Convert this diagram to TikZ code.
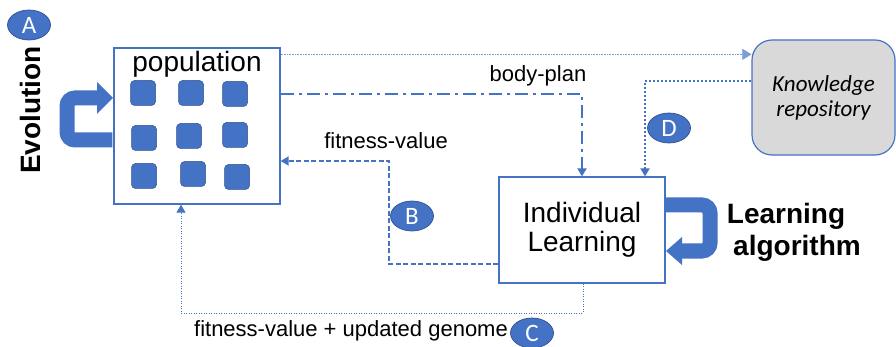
\documentclass[tikz,border=0pt]{standalone}
\usepackage{fontspec}
\setmainfont{Liberation Sans}
\newfontfamily\calfont{Carlito}
\usetikzlibrary{arrows.meta,calc,shapes.geometric}
\definecolor{blu}{HTML}{4472C4}
\definecolor{dblu}{HTML}{2F528F}
\definecolor{kgray}{HTML}{D9D9D9}
\begin{document}
\begin{tikzpicture}[x=1pt,y=-1pt,
  box/.style={draw=blu, line width=1.3pt, fill=white, inner sep=0},
  indiv/.style={fill=blu, draw=dblu, line width=0.5pt, rounded corners=4pt, minimum size=25pt, inner sep=0},
  badge/.style={ellipse, fill=blu, draw=dblu, line width=0.7pt, text=white, minimum width=43pt, minimum height=30pt, inner sep=0, font=\calfont\fontsize{25}{25}\selectfont},
  tip/.style={-{Triangle[width=9pt,length=8pt]}},
  lbl/.style={font=\fontsize{22}{24}\selectfont, inner sep=0},
  big/.style={font=\fontsize{28}{31}\selectfont, align=center},
  bigb/.style={font=\bfseries\fontsize{28}{32}\selectfont, align=center},
  bodyplan/.style={draw=blu, line width=2.6pt, dash pattern=on 13pt off 5pt on 3pt off 5pt, tip},
  fitv/.style={draw=blu, line width=1.7pt, dash pattern=on 5pt off 2.5pt, tip},
  dotc/.style={draw=blu, line width=1pt, dash pattern=on 1.2pt off 1.3pt, tip},
  dotd/.style={draw=blu, line width=2pt, dash pattern=on 2pt off 2pt, tip},
  dotthin/.style={draw=blu!70, line width=0.6pt, dash pattern=on 0.8pt off 0.8pt, -{Triangle[width=11pt,length=9pt]}},
  blockarrow/.style={draw=blu, line width=15pt, rounded corners=8pt}
]
\useasboundingbox (0,0) rectangle (896,347);

% main boxes
\node[box, minimum width=166pt, minimum height=156pt] (pop) at (197,126) {};
\node[big, anchor=base] (poptxt) at (197,72) {population};
\node[box, minimum width=166pt, minimum height=106pt, big] (ind) at (582,230) {Individual\\[-2pt]Learning};
\node[draw=blu, line width=1.2pt, fill=kgray, rounded corners=20pt, minimum width=143pt, minimum height=115pt,
      font=\calfont\itshape\fontsize{23}{25}\selectfont, align=center] (know) at (823.5,97.5) {Knowledge\\repository};

% individuals
\node[indiv] (s1) at (143,93) {};
\node[indiv] (s2) at (191,93) {};
\node[indiv] (s3) at (235,94) {};
\node[indiv] (s4) at (144,138) {};
\node[indiv] (s5) at (189,136) {};
\node[indiv] (s6) at (235,135) {};
\node[indiv] (s7) at (144,176) {};
\node[indiv] (s8) at (193,174) {};
\node[indiv] (s9) at (237,177) {};

% side labels
\node[bigb, rotate=90] (evo) at (30,110) {Evolution};
\node[bigb] (la) at (797,232) {Learning\hspace*{22pt}\\algorithm};

% evolution block arrow
\draw[blockarrow] ($(pop.west)+(-1,14)$) -- (67,140) -- (67,98) -- (98,98);
\fill[blu] (97,82) -- (113,98) -- (97,114) -- cycle;

% learning algorithm block arrow
\draw[blockarrow] ($(ind.east)+(0,-25)$) -- (710,205) -- (710,251) -- (681,251);
\fill[blu] (682,237) -- (666,251) -- (682,265) -- cycle;

% connectors
\coordinate (t0) at ($(pop.north east)+(0,7)$);
\draw[dotthin] (t0) -- (t0 -| know.west);

\draw[bodyplan] ($(pop.east)+(0,-32)$) -| (ind.north);
\node[lbl] (bpl) at (538,76) {body-plan};

\coordinate (f0) at ($(ind.west)+(0,34)$);
\coordinate (f1) at ($(pop.east)+(0,35)$);
\draw[fitv] (f0) -| (389,161) -- (f1);
\node[lbl] (fvl) at (386,141) {fitness-value};

\coordinate (c0) at ($(ind.south)+(1,0)$);
\coordinate (c1) at ($(pop.south)+(-16,0)$);
\draw[dotc] (c0) |- (181,313) -- (c1);
\node[lbl] (cl) at (351,331) {fitness-value + updated genome};

\coordinate (d0) at ($(know.west)+(0,-16.5)$);
\coordinate (d1) at ($(ind.north)+(63,0)$);
\draw[dotd] (d0) -| (d1);

% badges
\node[badge] (ba) at (29,25) {A};
\node[badge] (bb) at (412,216) {B};
\node[badge] (bc) at (532,333) {C};
\node[badge] (bd) at (669,128) {D};
\end{tikzpicture}
\end{document}
